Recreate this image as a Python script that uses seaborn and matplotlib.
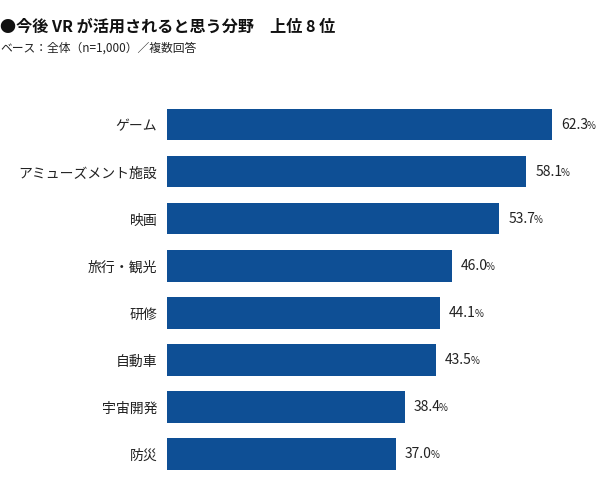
import matplotlib
matplotlib.use("Agg")
import matplotlib.pyplot as plt
import matplotlib.transforms as mtransforms
import seaborn as sns
import pandas as pd

categories = ["ゲーム", "アミューズメント施設", "映画", "旅行・観光", "研修", "自動車", "宇宙開発", "防災"]
values = [62.3, 58.1, 53.7, 46.0, 44.1, 43.5, 38.4, 37.0]

title = "●今後 VR が活用されると思う分野　上位 8 位"
subtitle = "ベース：全体（n=1,000）／複数回答"

sns.set_theme(style="white")
plt.rcParams["font.family"] = ["Noto Sans CJK JP", "DejaVu Sans"]

bar_color = "#0e4f95"
text_color = "#222222"

df = pd.DataFrame({"category": categories, "value": values})

fig = plt.figure(figsize=(6, 4.9), dpi=100)
ax = fig.add_axes([0.2783, 0.0255, 0.7217, 0.7674])

sns.barplot(data=df, x="value", y="category", color=bar_color, width=0.66,
            saturation=1, linewidth=0, ax=ax)

ax.set_xlim(0, 70)
ax.set_ylim(7.5, -0.5)
ax.set_xlabel("")
ax.set_ylabel("")
ax.set_xticks([])
ax.tick_params(axis="y", length=0, pad=7, labelsize=10, labelcolor=text_color)
for s in ax.spines.values():
    s.set_visible(False)

# value labels: number plus a smaller percent sign
num_texts = []
for i, v in enumerate(values):
    t = ax.text(v + 1.45, i, f"{v:.1f}", va="center", ha="left",
                fontsize=10, color=text_color)
    num_texts.append(t)

fig.canvas.draw()
renderer = fig.canvas.get_renderer()
for t, v, i in zip(num_texts, values, range(len(values))):
    bb = t.get_window_extent(renderer)
    trans = mtransforms.offset_copy(ax.transData, fig=fig, x=bb.width / fig.dpi * 72 - 1.0,
                                    y=-0.8, units="points")
    ax.text(v + 1.45, i, "%", va="center", ha="left", fontsize=7,
            color=text_color, transform=trans)

fig.text(0.0, 1 - 27 / 490, title, fontsize=11.6, fontweight="bold",
         color="#111111", va="center", ha="left")
fig.text(0.0, 1 - 48 / 490, subtitle, fontsize=8.5, color=text_color,
         va="center", ha="left")

fig.savefig("out.png", dpi=100, facecolor="white")
